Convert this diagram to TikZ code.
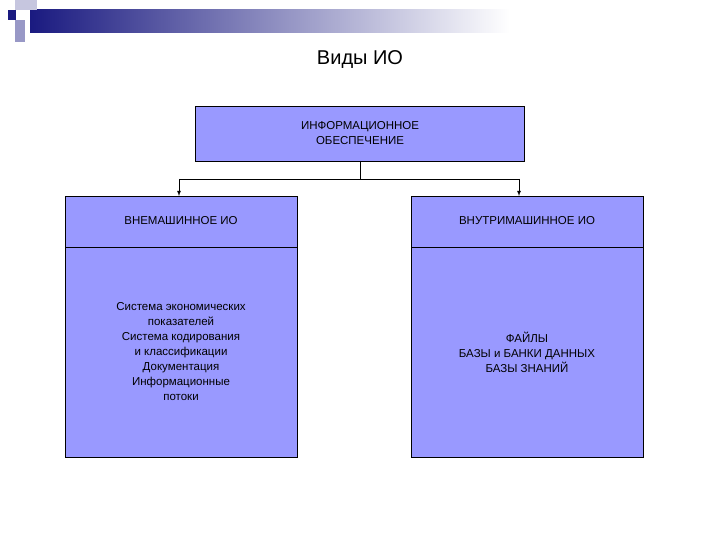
\documentclass[tikz,border=0pt]{standalone}
\usepackage{fontspec}
\setmainfont{Liberation Sans}
\begin{document}
\begin{tikzpicture}[x=1pt,y=-1pt,
 box/.style={draw=black,fill=boxc,line width=0.8pt},
 lbl/.style={font=\fontsize{11.5}{15}\selectfont,align=center,text=black}]
\definecolor{boxc}{HTML}{9999FF}
\definecolor{navy}{HTML}{1A1A80}
\useasboundingbox (0,0) rectangle (720,540);
% decoration
\fill[left color=navy,right color=white] (30,10) rectangle (510,33);
\fill[navy!25] (15,0) rectangle (37,10);
\fill[navy!45] (15,20) rectangle (25,42);
\fill[navy] (8,10) rectangle (16,20);
\node[font=\fontsize{20}{24}\selectfont] (title) at (360,60) {Виды ИО};
\draw[box] (195,106) rectangle (524,161);
\node[lbl] (top) at (360,133) {ИНФОРМАЦИОННОЕ\\ОБЕСПЕЧЕНИЕ};
\draw[box] (65,196) rectangle (297,247);
\draw[box] (65,247) rectangle (297,457);
\draw[box] (411,196) rectangle (643,247);
\draw[box] (411,247) rectangle (643,457);
\node[lbl] (lh) at (181,221) {ВНЕМАШИННОЕ ИО};
\node[lbl] (rh) at (527,221) {ВНУТРИМАШИННОЕ ИО};
\node[lbl] (lb) at (181,352) {Система экономических\\показателей\\Система кодирования\\и классификации\\Документация\\Информационные\\потоки};
\node[lbl] (rb) at (527,352) {ФАЙЛЫ\\БАЗЫ и БАНКИ ДАННЫХ\\БАЗЫ ЗНАНИЙ};
\coordinate (a) at (360,161);
\coordinate (b) at (360,179);
\coordinate (l) at (179,179);
\coordinate (r) at (519,179);
\coordinate (le) at (179,196);
\coordinate (re) at (519,196);
\draw[line width=0.8pt] (a) -- (b) (l) -- (r);
\draw[line width=0.8pt,-latex] (l) -- (le);
\draw[line width=0.8pt,-latex] (r) -- (re);
\end{tikzpicture}
\end{document}
